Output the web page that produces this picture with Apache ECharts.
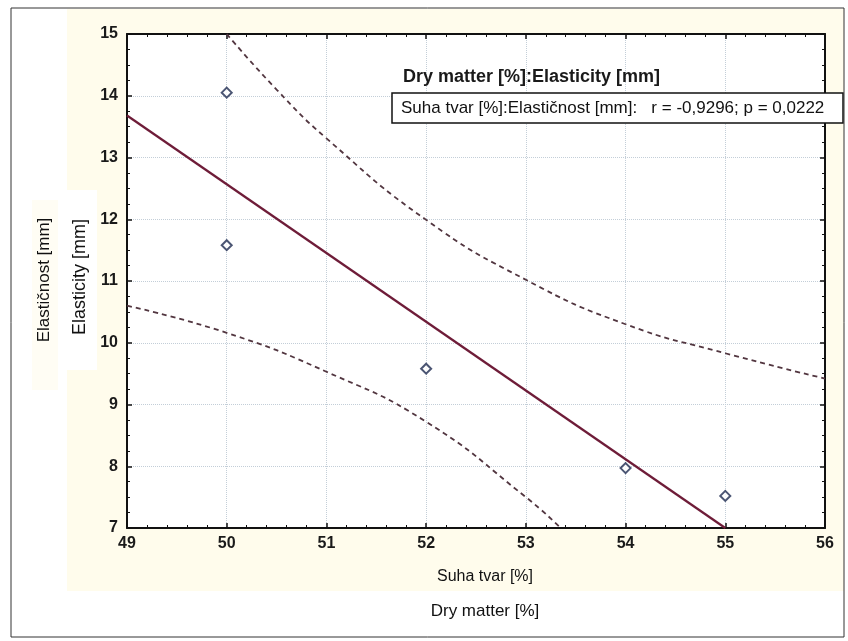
<!DOCTYPE html>
<html style="height: 100%">
  <head>
    <meta charset="utf-8" />
    <title>Dry matter : Elasticity</title>
    <script src="https://cdn.jsdelivr.net/npm/echarts@6/dist/echarts.min.js"></script>
  </head>
  <body style="height: 100%; margin: 0; background: #fff">
    <div id="main" style="width: 848px; height: 641px"></div>
    <script type="text/javascript">
      // measured points (dry matter %, elasticity mm)
      var points = [
        [50, 14.05],
        [50, 11.58],
        [52, 9.58],
        [54, 7.97],
        [55, 7.52]
      ];
      // regression line
      var fitLine = [
        [49, 13.68],
        [55, 7.0]
      ];
      // 95% confidence bands
      var upperBand = [
        [50, 15.0], [50.5, 14.1], [51, 13.31], [52, 11.99],
        [53, 11.02], [54, 10.3], [55, 9.83], [56, 9.42]
      ];
      var lowerBand = [
        [49, 10.6], [50, 10.16], [51, 9.53], [52, 8.72],
        [53, 7.5], [53.35, 7.0]
      ];
      var legendTitle = "Dry matter [%]:Elasticity [mm]";
      var legendText = "Suha tvar [%]:Elastičnost [mm]:   r = -0,9296; p = 0,0222";

      var myChart = echarts.init(document.getElementById("main"));
      var tickFont = { fontSize: 16, fontWeight: "bold", color: "#1a1a1a", fontFamily: "Liberation Sans, Arial" };
      var frame = { show: true, lineStyle: { color: "#111", width: 2 } };
      var grid = { show: true, lineStyle: { color: "#c3ced8", type: "dotted", width: 1 } };
      var ticks = { show: true, inside: true, length: 5, lineStyle: { color: "#111", width: 1.5 } };

      var option = {
        animation: false,
        backgroundColor: "#fff",
        grid: { left: 127, top: 34, right: 23, bottom: 113 },
        xAxis: [
          {
            type: "value", min: 49, max: 56, interval: 1, position: "bottom",
            axisLine: frame, axisTick: ticks,
            minorTick: { show: true, splitNumber: 5, length: 3, lineStyle: { color: "#111" } },
            axisLabel: Object.assign({ margin: 8 }, tickFont),
            splitLine: grid
          },
          {
            type: "value", min: 49, max: 56, interval: 1, position: "top",
            axisLine: frame, axisTick: ticks,
            minorTick: { show: true, splitNumber: 5, length: 3, lineStyle: { color: "#111" } },
            axisLabel: { show: false },
            splitLine: { show: false }
          }
        ],
        yAxis: [
          {
            type: "value", min: 7, max: 15, interval: 1, position: "left",
            axisLine: frame, axisTick: ticks,
            minorTick: { show: true, splitNumber: 4, length: 3, lineStyle: { color: "#111" } },
            axisLabel: Object.assign({ margin: 9 }, tickFont),
            splitLine: grid
          },
          {
            type: "value", min: 7, max: 15, interval: 1, position: "right",
            axisLine: frame, axisTick: ticks,
            minorTick: { show: true, splitNumber: 4, length: 3, lineStyle: { color: "#111" } },
            axisLabel: { show: false },
            splitLine: { show: false }
          }
        ],
        graphic: [
          // cream backdrop and outer frame
          { type: "rect", z: -10, silent: true, shape: { x: 67, y: 9, width: 777, height: 582 }, style: { fill: "#fffcec" } },
          { type: "rect", z: -9, silent: true, shape: { x: 128, y: 34, width: 696, height: 494 }, style: { fill: "#fff" } },
          { type: "rect", z: -8, silent: true, shape: { x: 67, y: 190, width: 30, height: 180 }, style: { fill: "#fff" } },
          { type: "rect", z: -8, silent: true, shape: { x: 32, y: 200, width: 26, height: 190 }, style: { fill: "#fffdf4" } },
          { type: "rect", z: 50, silent: true, shape: { x: 11, y: 8, width: 833, height: 629 }, style: { fill: "none", stroke: "#333", lineWidth: 1 } },
          // axis titles
          { type: "text", x: 485, y: 577, style: { text: "Suha tvar [%]", fontSize: 16, fontFamily: "Liberation Sans", fill: "#111", align: "center", verticalAlign: "middle" } },
          { type: "text", x: 485, y: 611, style: { text: "Dry matter [%]", fontSize: 17, fontFamily: "Liberation Sans", fill: "#111", align: "center", verticalAlign: "middle" } },
          { type: "text", x: 80, y: 277, rotation: Math.PI / 2, style: { text: "Elasticity [mm]", fontSize: 18, fontFamily: "Liberation Sans", fill: "#111", align: "center", verticalAlign: "middle" } },
          { type: "text", x: 44, y: 280, rotation: Math.PI / 2, style: { text: "Elastičnost [mm]", fontSize: 17, fontFamily: "Liberation Sans", fill: "#111", align: "center", verticalAlign: "middle" } },
          // legend
          { type: "text", z: 20, x: 403, y: 77, style: { text: legendTitle, fontSize: 18, fontWeight: "bold", fontFamily: "Liberation Sans", fill: "#1a1a1a", verticalAlign: "middle" } },
          { type: "rect", z: 20, shape: { x: 392, y: 93, width: 451, height: 30 }, style: { fill: "#fff", stroke: "#111", lineWidth: 1.5 } },
          { type: "text", z: 21, x: 401, y: 108, style: { text: legendText, fontSize: 17, fontFamily: "Liberation Sans", fill: "#111", verticalAlign: "middle" } }
        ],
        series: [
          {
            name: "upper", type: "line", data: upperBand, smooth: true, showSymbol: false, clip: true,
            lineStyle: { color: "#523640", width: 1.8, type: [5, 4] }
          },
          {
            name: "lower", type: "line", data: lowerBand, smooth: true, showSymbol: false, clip: true,
            lineStyle: { color: "#523640", width: 1.8, type: [5, 4] }
          },
          {
            name: "fit", type: "line", data: fitLine, showSymbol: false,
            lineStyle: { color: "#6e1c38", width: 2.2 }
          },
          {
            name: "points", type: "scatter", data: points, symbol: "diamond", symbolSize: 10, z: 5,
            itemStyle: { color: "#fff", borderColor: "#1e2b50", borderWidth: 2 }
          }
        ]
      };
      myChart.setOption(option);
    </script>
  </body>
</html>
